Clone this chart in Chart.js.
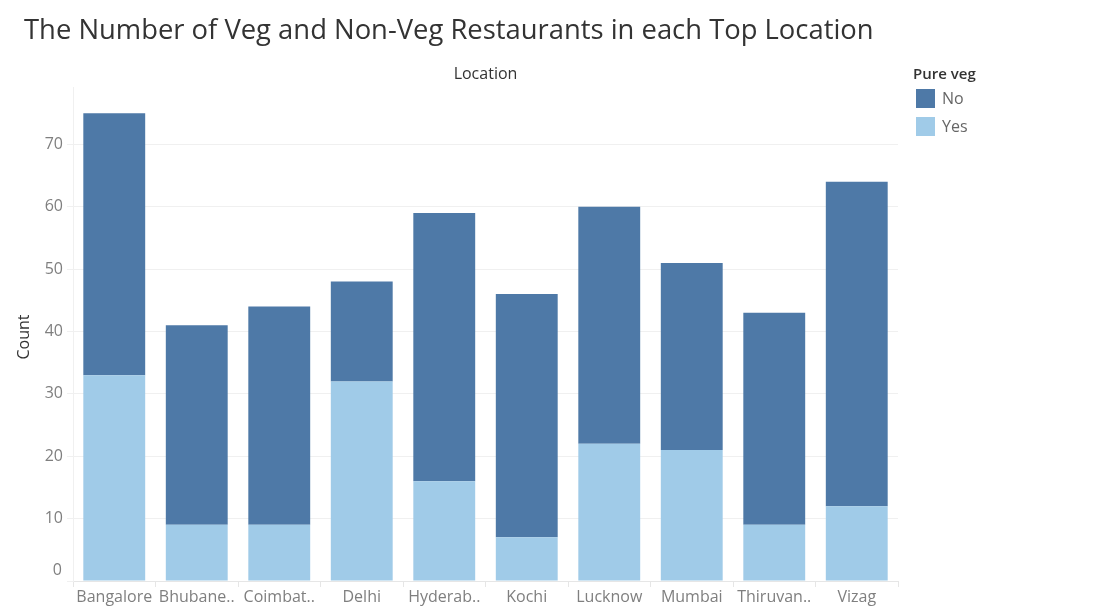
<!DOCTYPE html>
<html>
<head>
<meta charset="utf-8">
<script src="https://cdn.jsdelivr.net/npm/chart.js@4"></script>
<style>
html,body{margin:0;padding:0;background:#fff;}
#wrap{width:1104px;height:612px;position:relative;}
</style>
</head>
<body>
<div id="wrap"><canvas id="c" width="1104" height="612"></canvas></div>
<script>
const categories = ['Bangalore','Bhubaneswar','Coimbatore','Delhi','Hyderabad','Kochi','Lucknow','Mumbai','Thiruvananthapuram','Vizag'];
const tickLabels = ['Bangalore','Bhubane..','Coimbat..','Delhi','Hyderab..','Kochi','Lucknow','Mumbai','Thiruvan..','Vizag'];
const yesValues = [33, 9, 9, 32, 16, 7, 22, 21, 9, 12];
const noValues = [42, 32, 35, 16, 43, 39, 38, 30, 34, 52];
const yTicks = [0, 10, 20, 30, 40, 50, 60, 70];
const seriesNames = ['No', 'Yes'];

const FONT = '"Open Sans", sans-serif';
const colNo = '#4e79a7', colYes = '#a0cbe8';

const decor = {
  id: 'decor',
  afterDraw(chart) {
    const ctx = chart.ctx;
    const ca = chart.chartArea;
    const ys = chart.scales.y;
    ctx.save();
    // zero tick label (shifted up like the reference)
    ctx.fillStyle = '#7f7f7f';
    ctx.font = '16px ' + FONT;
    ctx.textAlign = 'right';
    ctx.textBaseline = 'middle';
    ctx.fillText(String(yTicks[0]), ca.left - 11, ys.getPixelForValue(yTicks[0]) - 11);
    // title
    ctx.fillStyle = '#333333';
    ctx.font = '27.4px ' + FONT;
    ctx.textAlign = 'left';
    ctx.fillText('The Number of Veg and Non-Veg Restaurants in each Top Location', 24, 31);
    // header
    ctx.font = '16px ' + FONT;
    ctx.textAlign = 'center';
    ctx.fillText('Location', (ca.left + ca.right) / 2, 74);
    // y title
    ctx.save();
    ctx.translate(24, 337);
    ctx.rotate(-Math.PI / 2);
    ctx.fillText('Count', 0, 0);
    ctx.restore();
    // legend
    ctx.textAlign = 'left';
    ctx.font = '600 15px ' + FONT;
    ctx.fillStyle = '#333333';
    ctx.fillText('Pure veg', 913, 75);
    const items = [{t: seriesNames[0], c: colNo}, {t: seriesNames[1], c: colYes}];
    items.forEach((it, i) => {
      const y = 89 + i * 28;
      ctx.fillStyle = it.c;
      ctx.fillRect(916, y, 19, 19);
      ctx.fillStyle = '#666666';
      ctx.font = '16px ' + FONT;
      ctx.fillText(it.t, 942, y + 10);
    });
    ctx.restore();
  }
};

new Chart(document.getElementById('c'), {
  type: 'bar',
  data: {
    labels: categories,
    datasets: [
      {label: seriesNames[1], data: yesValues, backgroundColor: colYes, barPercentage: 0.75, categoryPercentage: 1},
      {label: seriesNames[0], data: noValues, backgroundColor: colNo, barPercentage: 0.75, categoryPercentage: 1}
    ]
  },
  options: {
    responsive: false,
    animation: false,
    layout: {padding: {left: 0, right: 206, top: 87, bottom: 0}},
    plugins: {legend: {display: false}, title: {display: false}, tooltip: {enabled: false}},
    scales: {
      x: {
        stacked: true,
        grid: {display: true, drawOnChartArea: false, offset: true, color: '#e6e6e6', tickLength: 6},
        border: {display: true, color: '#e6e6e6'},
        ticks: {
          color: '#7f7f7f', font: {family: FONT, size: 16}, padding: 1, maxRotation: 0, autoSkip: false,
          callback: (v, i) => tickLabels[i]
        },
        afterFit: s => { s.height = 31; }
      },
      y: {
        stacked: true,
        min: 0, max: 79.2,
        afterBuildTicks: s => { s.ticks = yTicks.map(v => ({value: v})); },
        grid: {color: '#f0f0f0', tickLength: 6, drawTicks: true},
        border: {display: true, color: '#f0f0f0'},
        ticks: {color: '#7f7f7f', font: {family: FONT, size: 16}, padding: 4,
          callback: (v) => v === yTicks[0] ? '' : String(v)},
        afterFit: s => { s.width = 73; }
      }
    }
  },
  plugins: [decor]
});
</script>
</body>
</html>
